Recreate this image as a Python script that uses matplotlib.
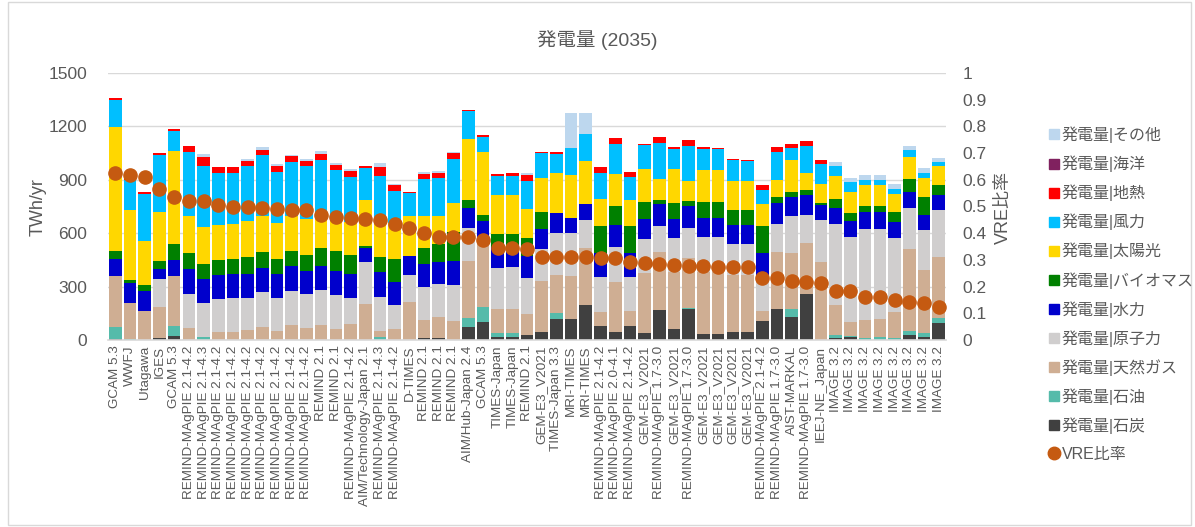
import numpy as np
import matplotlib.pyplot as plt
from matplotlib.lines import Line2D
from matplotlib.patches import Rectangle

plt.rcParams['font.family'] = ['Liberation Sans', 'Noto Sans CJK JP']

# model names along the x axis (one bar per scenario)
models = [
    'GCAM 5.3', 'WWFJ', 'Utagawa', 'IGES', 'GCAM 5.3',
    'REMIND-MAgPIE 2.1-4.2', 'REMIND-MAgPIE 2.1-4.3', 'REMIND-MAgPIE 2.1-4.2',
    'REMIND-MAgPIE 2.1-4.2', 'REMIND-MAgPIE 2.1-4.2', 'REMIND-MAgPIE 2.1-4.2',
    'REMIND-MAgPIE 2.1-4.2', 'REMIND-MAgPIE 2.1-4.2', 'REMIND-MAgPIE 2.1-4.2',
    'REMIND 2.1', 'REMIND 2.1', 'REMIND-MAgPIE 2.1-4.2',
    'AIM/Technology-Japan 2.1', 'REMIND-MAgPIE 2.1-4.3', 'REMIND-MAgPIE 2.1-4.2',
    'D-TIMES', 'REMIND 2.1', 'REMIND 2.1', 'REMIND 2.1', 'AIM/Hub-Japan 2.4',
    'GCAM 5.3', 'TIMES-Japan', 'TIMES-Japan', 'REMIND 2.1', 'GEM-E3_V2021',
    'TIMES-Japan 3.3', 'MRI-TIMES', 'MRI-TIMES', 'REMIND-MAgPIE 2.1-4.2',
    'REMIND-MAgPIE 2.0-4.1', 'REMIND-MAgPIE 2.1-4.2', 'GEM-E3_V2021',
    'REMIND-MAgPIE 1.7-3.0', 'GEM-E3_V2021', 'REMIND-MAgPIE 1.7-3.0',
    'GEM-E3_V2021', 'GEM-E3_V2021', 'GEM-E3_V2021', 'GEM-E3_V2021',
    'REMIND-MAgPIE 2.1-4.2', 'REMIND-MAgPIE 1.7-3.0', 'AIST-MARKAL',
    'REMIND-MAgPIE 1.7-3.0', 'IEEJ-NE_Japan',
    'IMAGE 3.2', 'IMAGE 3.2', 'IMAGE 3.2', 'IMAGE 3.2',
    'IMAGE 3.2', 'IMAGE 3.2', 'IMAGE 3.2', 'IMAGE 3.2',
]

# generation by source, TWh/yr (stacked bottom -> top)
coal = [7, 0, 0, 11, 24, 0, 0, 0, 0, 0, 0, 0, 0, 0, 0, 0, 0, 0, 0, 0,
        0, 9, 11, 0, 75, 99, 17, 17, 26, 43, 120, 120, 199, 81, 43, 81, 38, 169, 60, 173,
        34, 34, 43, 43, 107, 173, 129, 259, 0, 13, 17, 0, 0, 0, 28, 17, 94]
oil = [68, 5, 0, 0, 57, 0, 17, 0, 0, 0, 0, 0, 0, 0, 0, 0, 0, 0, 15, 0,
       0, 0, 0, 0, 51, 87, 24, 24, 0, 0, 30, 0, 0, 0, 0, 0, 0, 0, 0, 9,
       0, 0, 0, 0, 0, 0, 44, 0, 0, 13, 6, 13, 17, 9, 23, 21, 28]
gas = [285, 205, 163, 176, 279, 69, 0, 43, 47, 56, 75, 51, 83, 69, 84, 64, 90, 203, 38, 62,
       214, 103, 120, 107, 317, 393, 132, 132, 120, 289, 214, 242, 317, 78, 285, 84, 341, 328, 324, 281,
       350, 350, 323, 323, 58, 324, 315, 285, 437, 173, 76, 100, 101, 147, 461, 356, 347]
nuclear = [0, 0, 0, 154, 0, 190, 189, 186, 187, 182, 193, 187, 195, 188, 197, 187, 148, 234, 191, 137,
           150, 184, 184, 201, 189, 0, 234, 238, 205, 180, 238, 238, 159, 197, 197, 191, 187, 142, 188, 169,
           192, 192, 174, 174, 191, 157, 210, 157, 238, 455, 482, 510, 505, 416, 232, 225, 259]
hydro = [94, 109, 113, 60, 90, 140, 137, 135, 134, 135, 135, 135, 135, 133, 135, 135, 131, 79, 137, 125,
         110, 130, 124, 135, 112, 87, 118, 114, 122, 112, 112, 86, 88, 133, 122, 133, 115, 124, 109, 122,
         108, 108, 107, 107, 130, 117, 105, 111, 83, 90, 90, 97, 97, 92, 89, 82, 86]
biomass = [45, 17, 33, 43, 88, 92, 86, 86, 86, 96, 92, 83, 88, 90, 100, 113, 107, 13, 86, 130,
           0, 93, 99, 163, 40, 35, 69, 73, 99, 94, 0, 0, 0, 152, 107, 149, 93, 25, 90, 28,
           90, 90, 81, 81, 152, 30, 31, 32, 11, 49, 43, 34, 34, 54, 73, 103, 56]
solar = [697, 395, 248, 274, 525, 203, 205, 197, 197, 202, 204, 200, 198, 199, 191, 189, 188, 259, 212, 202,
         220, 175, 161, 163, 347, 357, 222, 218, 165, 191, 222, 242, 244, 152, 178, 146, 188, 118, 187, 112,
         179, 179, 168, 168, 125, 99, 175, 94, 107, 130, 115, 118, 118, 105, 122, 105, 105]
wind = [150, 169, 264, 321, 113, 360, 341, 294, 290, 304, 338, 289, 302, 296, 306, 265, 253, 181, 240, 182,
        131, 210, 209, 249, 157, 80, 103, 108, 159, 139, 107, 150, 150, 148, 169, 129, 131, 200, 115, 197,
        121, 120, 113, 109, 79, 154, 69, 150, 112, 52, 56, 28, 28, 28, 37, 29, 23]
geothermal = [15, 11, 13, 9, 11, 37, 53, 30, 30, 28, 28, 30, 30, 28, 30, 30, 30, 6, 52, 30,
              4, 28, 30, 30, 6, 13, 13, 12, 30, 10, 13, 0, 0, 30, 33, 30, 10, 32, 9, 32,
              10, 7, 7, 8, 30, 30, 25, 31, 21, 0, 0, 0, 0, 0, 0, 0, 0]
ocean = [0] * 57
other = [0, 0, 0, 0, 0, 0, 18, 0, 0, 13, 17, 15, 7, 13, 18, 13, 13, 0, 23, 10,
         0, 13, 11, 8, 0, 0, 0, 0, 12, 0, 0, 197, 118, 0, 0, 0, 0, 0, 0, 0,
         0, 0, 0, 0, 0, 0, 0, 0, 0, 23, 24, 26, 26, 25, 26, 28, 24]

# VRE share (secondary axis)
vre_ratio = [0.624, 0.617, 0.612, 0.564, 0.535, 0.52, 0.52, 0.505, 0.50, 0.50,
             0.496, 0.491, 0.487, 0.487, 0.469, 0.46, 0.456, 0.454, 0.451, 0.436,
             0.419, 0.40, 0.386, 0.387, 0.387, 0.375, 0.346, 0.344, 0.34, 0.312,
             0.312, 0.31, 0.31, 0.306, 0.306, 0.291, 0.289, 0.284, 0.281, 0.278,
             0.278, 0.275, 0.275, 0.275, 0.231, 0.231, 0.221, 0.219, 0.215, 0.185,
             0.185, 0.16, 0.16, 0.15, 0.144, 0.137, 0.125]

series = [
    ('発電量|石炭', coal, '#404040'),
    ('発電量|石油', oil, '#55BBAA'),
    ('発電量|天然ガス', gas, '#CFAE93'),
    ('発電量|原子力', nuclear, '#D0CECE'),
    ('発電量|水力', hydro, '#0000CC'),
    ('発電量|バイオマス', biomass, '#008000'),
    ('発電量|太陽光', solar, '#FFD700'),
    ('発電量|風力', wind, '#00BFFF'),
    ('発電量|地熱', geothermal, '#FF0000'),
    ('発電量|海洋', ocean, '#80215F'),
    ('発電量|その他', other, '#BDD7EE'),
]
vre_color = '#C55A11'
text_color = '#595959'
grid_color = '#D9D9D9'

W, H = 1195, 527
fig = plt.figure(figsize=(W / 100, H / 100), dpi=100)
# plot area in pixels: x 108..946, y 73..340
ax = fig.add_axes([108 / W, 1 - 340 / H, (946 - 108) / W, (340 - 73) / H])

x = np.arange(len(models))
bottom = np.zeros(len(models))
for name, vals, col in series:
    vals = np.array(vals, dtype=float)
    ax.bar(x, vals, bottom=bottom, width=0.86, color=col, linewidth=0, zorder=2)
    bottom += vals

ax.set_xlim(-0.5, len(models) - 0.5)
ax.set_ylim(0, 1500)
ax.set_yticks(range(0, 1501, 300))
ax.set_xticks(x)
ax.set_xticklabels(models, rotation=90, fontsize=9.7, color=text_color)
ax.tick_params(axis='x', length=0, pad=4)
ax.tick_params(axis='y', length=0, pad=15, labelsize=12.5, labelcolor=text_color)
ax.grid(axis='y', color=grid_color, linewidth=1, zorder=0)
ax.set_axisbelow(True)
for s in ['top', 'left', 'right']:
    ax.spines[s].set_visible(False)
ax.spines['bottom'].set_color(grid_color)
ax.spines['bottom'].set_linewidth(1.2)

# secondary axis for VRE share
ax2 = ax.twinx()
ax2.plot(x, vre_ratio, linestyle='none', marker='o', markersize=9.5,
         color=vre_color, zorder=5)
ax2.set_ylim(0, 1)
ax2.set_yticks(np.arange(0, 1.01, 0.1))
ax2.set_yticklabels(['0', '0.1', '0.2', '0.3', '0.4', '0.5', '0.6', '0.7', '0.8', '0.9', '1'])
ax2.tick_params(axis='y', length=0, pad=12, labelsize=12.5, labelcolor=text_color)
for s in ax2.spines.values():
    s.set_visible(False)

# titles and axis labels
fig.text(0.5, 1 - 40 / H, '発電量 (2035)', ha='center', va='center', fontsize=14, color=text_color)
fig.text(38 / W, 1 - 207 / H, 'TWh/yr', rotation=90, ha='center', va='center',
         fontsize=13, color=text_color)
fig.text(1003 / W, 1 - 207 / H, 'VRE比率', rotation=90, ha='center', va='center',
         fontsize=13, color=text_color)

# legend (top entry is the last stacked series)
handles = []
for name, vals, col in reversed(series):
    handles.append(Line2D([], [], linestyle='none', marker='s', markersize=7,
                          color=col, label=name))
handles.append(Line2D([], [], linestyle='none', marker='o', markersize=9,
                      color=vre_color, label='VRE比率'))
fig.legend(handles=handles, loc='center left', bbox_to_anchor=(1040 / W, 1 - 294 / H),
           frameon=False, fontsize=11.5, labelcolor=text_color, handlelength=0.7,
           handletextpad=0.15, labelspacing=0.78, borderpad=0)

# chart border
fig.patches.append(Rectangle((8 / W, 2 / H), 1 - 12 / W, 1 - 4 / H, transform=fig.transFigure,
                             fill=False, edgecolor=grid_color, linewidth=1))

fig.savefig('out.png', dpi=100)
